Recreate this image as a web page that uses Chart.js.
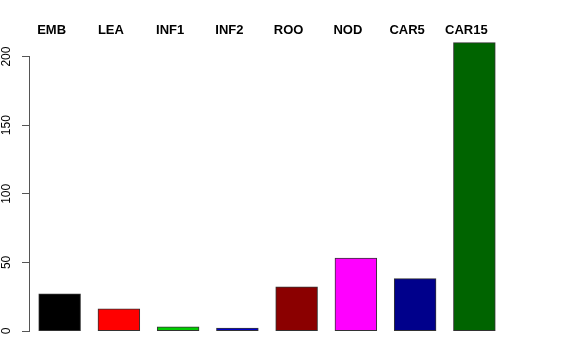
<!DOCTYPE html>
<html>
<head>
<meta charset="utf-8">
<script src="https://cdn.jsdelivr.net/npm/chart.js@4/dist/chart.umd.min.js"></script>
<style>
  body { margin: 0; background: #fff; }
  #wrap { width: 576px; height: 360px; }
</style>
</head>
<body>
<div id="wrap"><canvas id="chart" width="576" height="360"></canvas></div>
<script>
// dados
const categorias = ["EMB", "LEA", "INF1", "INF2", "ROO", "NOD", "CAR5", "CAR15"];
const valores = [27, 16, 3, 2, 32, 53, 38, 210];
const cores = ["#000000", "#FF0000", "#00CD00", "#0000CD", "#8B0000", "#FF00FF", "#00008B", "#006400"];
const ticksY = [0, 50, 100, 150, 200];

// linha do eixo y só entre o primeiro e o último tick (estilo R)
const eixoR = {
  id: "eixoR",
  afterDraw(chart) {
    const y = chart.scales.y;
    const ctx = chart.ctx;
    const x = Math.round(y.right) - 0.5;
    ctx.save();
    ctx.strokeStyle = "#555";
    ctx.lineWidth = 1;
    ctx.beginPath();
    ctx.moveTo(x, Math.round(y.getPixelForValue(ticksY[0])) + 0.5);
    ctx.lineTo(x, Math.round(y.getPixelForValue(ticksY[ticksY.length - 1])) - 0.5);
    ctx.stroke();
    ctx.restore();
  },
};

const ctx = document.getElementById("chart").getContext("2d");
const grafico = new Chart(ctx, {
  type: "bar",
  data: {
    labels: categorias,
    datasets: [
      {
        data: valores,
        backgroundColor: cores,
        borderColor: "#333",
        borderWidth: 1,
        borderSkipped: false,
        inflateAmount: 0.5, // borda por fora, como no R
        barPercentage: 0.70,
        categoryPercentage: 1,
      },
    ],
  },
  options: {
    responsive: false,
    devicePixelRatio: 1,
    animation: false,
    layout: { padding: { top: 21, right: 72, bottom: 29, left: 0 } },
    plugins: { legend: { display: false }, tooltip: { enabled: false } },
    scales: {
      x: {
        position: "top",
        grid: { display: false, drawTicks: false },
        border: { display: false },
        ticks: {
          padding: -2,
          labelOffset: -8,
          color: "#000",
          font: { family: "'Liberation Sans', Arial", size: 13, weight: "bold" },
          maxRotation: 0,
          autoSkip: false,
        },
        afterFit(scale) {
          scale.height = 15;
        },
      },
      y: {
        min: 0,
        max: 215,
        border: { display: false },
        grid: { drawOnChartArea: false, drawTicks: true, tickLength: 8, color: "#555" },
        ticks: {
          stepSize: 50,
          minRotation: 90,
          maxRotation: 90,
          crossAlign: "center",
          padding: 5,
          color: "#000",
          font: { family: "'Liberation Sans', Arial", size: 12 },
        },
        afterBuildTicks(scale) {
          scale.ticks = ticksY.map((v) => ({ value: v }));
        },
        afterFit(scale) {
          scale.width = 30;
        },
      },
    },
  },
  plugins: [eixoR],
});
</script>
</body>
</html>
